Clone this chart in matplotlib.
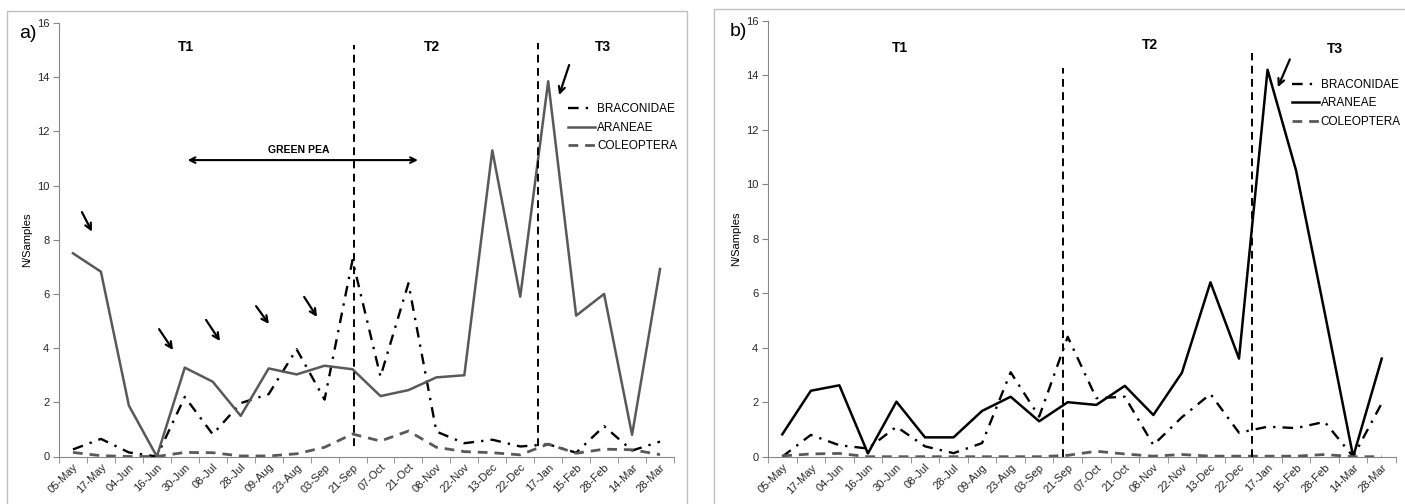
import numpy as np
import matplotlib
matplotlib.use('Agg')
import matplotlib.pyplot as plt
from matplotlib.patches import Rectangle

plt.rcParams['font.family'] = ['Liberation Sans', 'DejaVu Sans']

dates = ['05-May', '17-May', '04-Jun', '16-Jun', '30-Jun', '08-Jul', '28-Jul', '09-Aug',
         '23-Aug', '03-Sep', '21-Sep', '07-Oct', '21-Oct', '08-Nov', '22-Nov', '13-Dec',
         '22-Dec', '17-Jan', '15-Feb', '28-Feb', '14-Mar', '28-Mar']

# panel a
a_braconidae = [0.26, 0.65, 0.15, 0, 2.2, 0.82, 1.97, 2.3, 3.96, 2.1, 7.25, 2.95, 6.39, 0.92,
                0.49, 0.62, 0.37, 0.45, 0.14, 1.12, 0.22, 0.55]
a_araneae = [7.5, 6.82, 1.88, 0, 3.28, 2.76, 1.5, 3.25, 3.03, 3.35, 3.22, 2.23, 2.45, 2.92,
             3.0, 11.3, 5.9, 13.85, 5.2, 6.0, 0.8, 6.92]
a_coleoptera = [0.15, 0.03, 0, 0, 0.15, 0.14, 0.02, 0.02, 0.1, 0.34, 0.83, 0.57, 0.94, 0.34,
                0.18, 0.14, 0.06, 0.46, 0.12, 0.27, 0.25, 0.07]

# panel b
b_braconidae = [0, 0.8, 0.42, 0.3, 1.1, 0.38, 0.13, 0.5, 3.1, 1.47, 4.4, 2.15, 2.2, 0.43,
                1.45, 2.3, 0.88, 1.1, 1.05, 1.28, 0, 1.96]
b_araneae = [0.82, 2.42, 2.62, 0.12, 2.02, 0.71, 0.71, 1.68, 2.2, 1.3, 2.0, 1.9, 2.6, 1.53,
             3.08, 6.4, 3.6, 14.2, 10.5, 5.3, 0, 3.6]
b_coleoptera = [0.03, 0.1, 0.12, 0, 0, 0, 0, 0, 0, 0, 0.05, 0.2, 0.1, 0.02, 0.08, 0.02,
                0.02, 0.02, 0.02, 0.08, 0, 0]

# period boundaries (x position, bottom, top) and period labels
a_periods = [(10.05, 0.4, 15.2), (16.63, 0.4, 15.27)]
b_periods = [(9.82, 0, 14.25), (16.44, 0, 14.8)]
a_period_labels = [('T1', 4.05, 15.1), ('T2', 12.85, 15.1), ('T3', 18.96, 15.1)]
b_period_labels = [('T1', 4.12, 15.0), ('T2', 12.88, 15.1), ('T3', 19.36, 14.95)]

# little pointer arrows (from, to)
a_arrows = [((0.32, 9.02), (0.68, 8.30)), ((3.08, 4.70), (3.58, 3.93)),
            ((4.76, 5.04), (5.26, 4.26)), ((6.55, 5.55), (7.01, 4.89)),
            ((8.27, 5.89), (8.73, 5.15)), ((17.75, 14.45), (17.39, 13.34))]
b_arrows = [((17.78, 14.58), (17.36, 13.56))]

x = np.arange(len(dates))

fig = plt.figure(figsize=(14.05, 5.04), dpi=100)
# chart area borders
fig.patches.append(Rectangle((7 / 1405, -0.05), 680 / 1405, 1.05 - 11 / 504, transform=fig.transFigure,
                             fill=False, ec='#bfbfbf', lw=1))
fig.patches.append(Rectangle((714 / 1405, -0.05), 700 / 1405, 1.05 - 9 / 504, transform=fig.transFigure,
                             fill=False, ec='#bfbfbf', lw=1))

ax1 = fig.add_axes([59 / 1405, 47.5 / 504, 615 / 1405, 433.5 / 504])
ax2 = fig.add_axes([768 / 1405, 47.3 / 504, 628 / 1405, 436 / 504])


def draw(ax, brac, aran, coleo, aran_color, periods, labels, arrows, leg_pos):
    l1, = ax.plot(x, brac, color='black', lw=1.7, label='BRACONIDAE')
    l1.set_dashes((4.5, 3, 1, 3))
    ax.plot(x, aran, color=aran_color, lw=1.8, label='ARANEAE')
    l3, = ax.plot(x, coleo, color='#595959', lw=2.0, label='COLEOPTERA')
    l3.set_dashes((3.5, 2.5))
    for px, lo, hi in periods:
        v, = ax.plot([px, px], [lo, hi], color='black', lw=1.4)
        v.set_dashes((4, 2.8))
    for txt, tx, ty in labels:
        ax.text(tx, ty, txt, ha='center', va='center', fontsize=10, fontweight='bold')
    for (x0, y0), (x1, y1) in arrows:
        ax.annotate('', xy=(x1, y1), xytext=(x0, y0),
                    arrowprops=dict(arrowstyle='->', color='black', lw=1.6, shrinkA=0, shrinkB=0,
                                    mutation_scale=11))
    ax.set_xlim(-0.5, len(dates) - 0.5)
    ax.set_ylim(0, 16)
    ax.set_yticks(np.arange(0, 17, 2))
    ax.set_xticks(x)
    ax.set_xticklabels(dates, rotation=45, ha='right', rotation_mode='anchor', fontsize=8)
    ax.set_xticks(np.arange(-0.5, len(dates), 1), minor=True)
    ax.tick_params(axis='x', which='major', length=0, pad=4, labelcolor='#262626')
    ax.tick_params(axis='x', which='minor', length=4, color='#868686', direction='out')
    ax.tick_params(axis='y', length=4, color='#868686', labelsize=8, labelcolor='#262626', pad=3)
    for s in ['top', 'right']:
        ax.spines[s].set_visible(False)
    for s in ['left', 'bottom']:
        ax.spines[s].set_color('#868686')
    ax.set_ylabel('N/Samples', fontsize=8, labelpad=3)
    ax.legend(loc='upper left', bbox_to_anchor=leg_pos, frameon=False, fontsize=8.5,
              handlelength=2.3, handletextpad=0.15, labelspacing=0.55, borderpad=0,
              borderaxespad=0)


draw(ax1, a_braconidae, a_araneae, a_coleoptera, '#595959', a_periods, a_period_labels,
     a_arrows, (0.828, 0.815))
draw(ax2, b_braconidae, b_araneae, b_coleoptera, 'black', b_periods, b_period_labels,
     b_arrows, (0.834, 0.867))

# green pea season
ax1.annotate('', xy=(12.34, 10.94), xytext=(4.1, 10.94),
             arrowprops=dict(arrowstyle='<->', color='black', lw=1.5, shrinkA=0, shrinkB=0,
                             mutation_scale=10))
ax1.text(8.06, 11.3, 'GREEN PEA', ha='center', va='center', fontsize=7.5, fontweight='bold')

fig.text(28 / 1405, 1 - 33 / 504, 'a)', fontsize=14, ha='center', va='center')
fig.text(738 / 1405, 1 - 32 / 504, 'b)', fontsize=14, ha='center', va='center')

fig.savefig('out.png', dpi=100)
